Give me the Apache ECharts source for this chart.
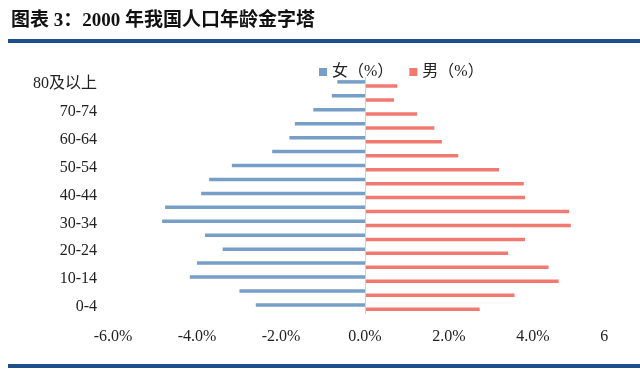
<!DOCTYPE html>
<html>
<head>
<meta charset="utf-8">
<script src="https://cdn.jsdelivr.net/npm/echarts@6/dist/echarts.min.js"></script>
<style>
html,body{margin:0;padding:0;background:#fff;}
#c{width:640px;height:373px;}
</style>
</head>
<body>
<div id="c"></div>
<script>
var ageGroups = ['0-4','5-9','10-14','15-19','20-24','25-29','30-34','35-39','40-44','45-49','50-54','55-59','60-64','65-69','70-74','75-79','80及以上'];
var femaleShare = [-2.60,-2.99,-4.17,-4.00,-3.39,-3.81,-4.83,-4.76,-3.90,-3.71,-3.17,-2.21,-1.80,-1.67,-1.23,-0.79,-0.66];
var maleShare = [2.73,3.56,4.61,4.37,3.41,3.81,4.90,4.86,3.81,3.78,3.19,2.22,1.83,1.65,1.24,0.69,0.77];
var xTicks = [-6,-4,-2,0,2,4,6];
var seriesNames = ['女（%）','男（%）'];
var titleText = '图表 3：2000 年我国人口年龄金字塔';

var serif = '"Liberation Serif","Noto Sans CJK SC",serif';
var chart = echarts.init(document.getElementById('c'));
chart.setOption({
  backgroundColor: '#ffffff',
  animation: false,
  title: {
    text: titleText,
    left: 6, top: 7,
    textStyle: {fontFamily: serif, fontWeight: 'bold', fontSize: 19, color: '#111'}
  },
  graphic: [
    {type: 'rect', left: 8, top: 39, shape: {width: 632, height: 4}, style: {fill: '#1D4F8C'}},
    {type: 'rect', left: 8, top: 364, shape: {width: 632, height: 4}, style: {fill: '#1D4F8C'}}
  ],
  legend: {
    data: seriesNames,
    left: 314, top: 59,
    itemWidth: 8, itemHeight: 8, itemGap: 16,
    icon: 'rect',
    textStyle: {fontFamily: serif, fontSize: 16, color: '#222'}
  },
  grid: {left: 113, right: 23, top: 77, bottom: 59, containLabel: false},
  xAxis: {
    type: 'value',
    min: xTicks[0], max: xTicks[xTicks.length - 1], interval: 2,
    axisLine: {show: false}, axisTick: {show: false}, splitLine: {show: false},
    axisLabel: {
      margin: 15,
      fontFamily: serif, fontSize: 16, color: '#222',
      formatter: function (v) {
        if (v === 6) return '6{h|.0%}';
        return v.toFixed(1) + '%';
      },
      rich: {h: {color: 'rgba(0,0,0,0)', fontFamily: serif, fontSize: 16}}
    }
  },
  yAxis: {
    type: 'category',
    data: ageGroups,
    axisLine: {show: false}, axisTick: {show: false},
    axisLabel: {interval: 1, margin: 16, padding: [4, 0, 0, 0], fontFamily: serif, fontSize: 16, color: '#222'}
  },
  series: [
    {
      name: seriesNames[0], type: 'bar', data: femaleShare,
      barWidth: 3.5, barGap: '20%',
      itemStyle: {color: '#779EC6'},
      markLine: {
        silent: true, symbol: 'none', label: {show: false},
        lineStyle: {color: '#D0D0D0', type: 'solid', width: 1},
        data: [{xAxis: 0}]
      }
    },
    {
      name: seriesNames[1], type: 'bar', data: maleShare,
      barWidth: 3.5, barGap: '20%',
      itemStyle: {color: '#F07A72'}
    }
  ]
});
</script>
</body>
</html>
